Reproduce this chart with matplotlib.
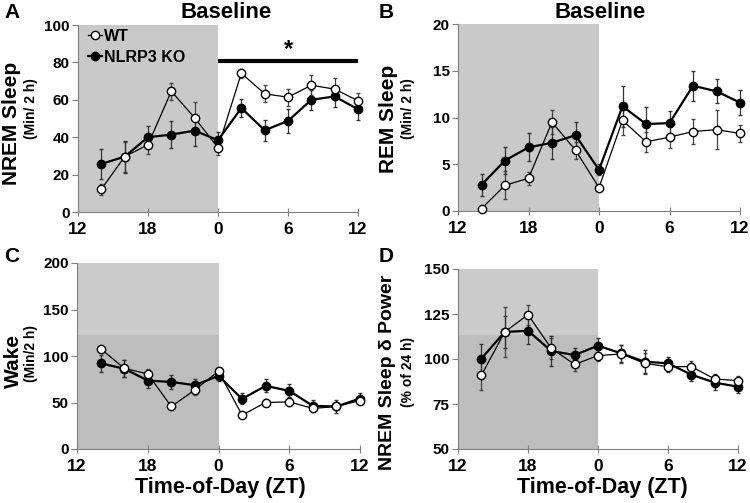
import numpy as np
import matplotlib
matplotlib.use("Agg")
from matplotlib import pyplot as plt

plt.rcParams['font.family'] = ['Liberation Sans', 'DejaVu Sans']
plt.rcParams['font.weight'] = 'bold'

# ZT positions, dark phase plotted as -12..0
zt = [-10, -8, -6, -4, -2, 0, 2, 4, 6, 8, 10, 12]
tick_pos = [-12, -6, 0, 6, 12]
tick_lab = ["12", "18", "0", "6", "12"]

# A: NREM sleep (min / 2 h)
nrem_wt = [12.2, 29.6, 36.0, 64.6, 50.3, 34.4, 74.2, 63.2, 61.4, 67.8, 65.7, 59.5]
nrem_wt_err = [3, 8, 5, 4.5, 8.5, 4, 2.5, 4.5, 4.5, 5.5, 6, 4]
nrem_ko = [25.7, 29.6, 40.0, 41.4, 43.5, 38.4, 55.6, 43.7, 48.7, 60.0, 61.8, 54.9]
nrem_ko_err = [8, 8.5, 6, 7, 8, 4.5, 5, 5.7, 6.5, 5.5, 5.5, 5.5]

# B: REM sleep (min / 2 h)
rem_wt = [0.25, 2.75, 3.5, 9.5, 6.5, 2.5, 9.7, 7.4, 7.9, 8.5, 8.7, 8.3]
rem_wt_err = [0.1, 1.5, 0.7, 1.3, 0.9, 0.3, 1.6, 1.1, 1.2, 1.3, 2.1, 0.9]
rem_ko = [2.8, 5.4, 6.8, 7.3, 8.1, 4.4, 11.2, 9.3, 9.4, 13.4, 12.8, 11.6]
rem_ko_err = [1.2, 1.4, 1.5, 1.7, 1.4, 0.6, 2.2, 1.8, 1.3, 1.6, 1.3, 1.3]

# C: wake (min / 2 h)
wake_wt = [107.9, 86.8, 80.7, 45.7, 63.6, 83.6, 36.4, 50.0, 50.7, 43.6, 45.7, 52.1]
wake_wt_err = [3, 9, 5, 3, 6, 4, 3, 4, 4, 4, 4, 4]
wake_ko = [92.1, 86.4, 73.6, 72.1, 68.6, 78.6, 53.9, 67.9, 62.5, 46.4, 45.7, 54.3]
wake_ko_err = [9, 9, 8, 8, 7, 5, 6, 7, 7, 6, 7, 6]

# D: NREM delta power (% of 24 h)
delta_wt = [90.9, 115.0, 124.6, 105.9, 97.0, 101.9, 102.8, 97.6, 95.7, 95.8, 88.9, 88.0]
delta_wt_err = [8, 14, 5.6, 6, 3.5, 3, 5, 6, 3, 3, 3, 2.5]
delta_ko = [100.2, 115.0, 115.7, 104.4, 102.2, 107.4, 103.1, 98.5, 97.6, 91.3, 86.9, 84.6]
delta_ko_err = [8, 9, 7.5, 8.5, 4, 4.5, 4.5, 6.5, 3.5, 3.5, 4, 3.5]

W, H = 750, 503
fig = plt.figure(figsize=(7.5, 5.03), dpi=100)


def px_axes(l, t, r, b):
    return fig.add_axes([l / W, 1 - b / H, (r - l) / W, (b - t) / H])


def panel(ax, wt, wt_err, ko, ko_err, ylim, yticks, split=None):
    ax.set_xlim(-12, 12)
    ax.set_ylim(*ylim)
    if split is None:
        ax.axvspan(-12, 0, color='#c9c9c9', lw=0, zorder=0)
    else:
        ax.fill_between([-12, 0], split, ylim[1], color='#cbcbcb', lw=0, zorder=0)
        ax.fill_between([-12, 0], ylim[0], split, color='#bdbdbd', lw=0, zorder=0)
    ax.errorbar(zt, wt, yerr=wt_err, fmt='none', ecolor='#444444', elinewidth=0.9,
                capsize=1.5, zorder=2, clip_on=False)
    ax.errorbar(zt, ko, yerr=ko_err, fmt='none', ecolor='#333333', elinewidth=0.9,
                capsize=1.5, zorder=2, clip_on=False)
    ax.plot(zt, wt, '-o', color='black', lw=0.9, mfc='white', mec='black',
            mew=1.0, ms=6, zorder=4, label='WT', clip_on=False)
    ax.plot(zt, ko, '-o', color='black', lw=1.6, mfc='black', mec='black',
            ms=6, zorder=3, label='NLRP3 KO', clip_on=False)
    for s in ['top', 'right']:
        ax.spines[s].set_visible(False)
    for s in ['left', 'bottom']:
        ax.spines[s].set_color('#808080')
    ax.set_xticks(tick_pos)
    ax.set_xticklabels(tick_lab, fontsize=12.5, fontweight='bold')
    ax.set_yticks(yticks)
    ax.set_yticklabels([str(v) for v in yticks], fontsize=11, fontweight='bold')
    ax.tick_params(axis='x', direction='inout', length=6, color='#808080', pad=4)
    ax.tick_params(axis='y', direction='out', length=4, color='#808080', pad=2)
    ax.set_facecolor('white')


axA = px_axes(78, 25, 358, 212)
panel(axA, nrem_wt, nrem_wt_err, nrem_ko, nrem_ko_err, (0, 100), [0, 20, 40, 60, 80, 100])
axA.plot([0, 12], [81, 81], color='black', lw=3, solid_capstyle='butt', zorder=5)
axA.text(6, 87, '*', ha='center', va='center', fontsize=17, fontweight='bold')
leg = axA.legend(loc='upper left', bbox_to_anchor=(0.0, 1.03), frameon=False,
                 handlelength=0.9, handletextpad=0.15, labelspacing=0.35,
                 borderaxespad=0.2, prop={'weight': 'bold', 'size': 11.5})

axB = px_axes(458, 24, 740, 211)
panel(axB, rem_wt, rem_wt_err, rem_ko, rem_ko_err, (0, 20), [0, 5, 10, 15, 20])

axC = px_axes(77, 263, 360, 449)
panel(axC, wake_wt, wake_wt_err, wake_ko, wake_ko_err, (0, 200), [0, 50, 100, 150, 200], split=123)

axD = px_axes(458, 269, 738, 449)
panel(axD, delta_wt, delta_wt_err, delta_ko, delta_ko_err, (50, 150), [50, 75, 100, 125, 150], split=113.5)


def ftext(x, y, s, **kw):
    fig.text(x / W, 1 - y / H, s, ha='center', va='center', fontweight='bold', **kw)


# panel letters
ftext(12, 12, 'A', fontsize=15)
ftext(386, 12, 'B', fontsize=15)
ftext(12, 256, 'C', fontsize=15)
ftext(386, 256, 'D', fontsize=15)

# titles
ftext(226, 12, 'Baseline', fontsize=16)
ftext(600, 12, 'Baseline', fontsize=16)

# y labels
ftext(12, 123, 'NREM Sleep', fontsize=15, rotation=90)
ftext(31, 109, '(Min/ 2 h)', fontsize=10, rotation=90)
ftext(388, 119, 'REM Sleep', fontsize=15, rotation=90)
ftext(408, 109, '(Min/ 2 h)', fontsize=10, rotation=90)
ftext(13, 361, 'Wake', fontsize=15, rotation=90)
ftext(31, 354, '(Min/2 h)', fontsize=10, rotation=90)
ftext(387, 372, 'NREM Sleep \u03b4 Power', fontsize=14, rotation=90)
ftext(408, 372, '(% of 24 h)', fontsize=10, rotation=90)

# x labels
ftext(220, 488, 'Time-of-Day (ZT)', fontsize=15.5)
ftext(602, 488, 'Time-of-Day (ZT)', fontsize=15.5)

fig.savefig('out.png', dpi=100)
